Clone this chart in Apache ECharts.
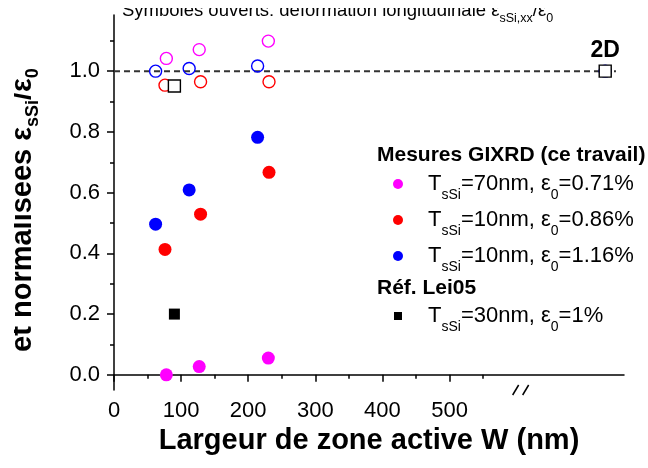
<!DOCTYPE html>
<html>
<head>
<meta charset="utf-8">
<script src="https://cdn.jsdelivr.net/npm/echarts@6/dist/echarts.min.js"></script>
<style>
  html, body { margin: 0; padding: 0; background: #fff; }
  #main { width: 648px; height: 468px; }
</style>
</head>
<body>
<div id="main"></div>
<script>
// W (nm) et deformations normalisees
const wT70 = [78, 127, 230];
const moyT70 = [0.0, 0.027, 0.055];
const longT70 = [1.042, 1.071, 1.099];

const wT10a = [76, 129, 231];
const moyT10a = [0.413, 0.529, 0.667];
const longT10a = [0.954, 0.965, 0.965];

const wT10b = [62, 112, 214];
const moyT10b = [0.496, 0.609, 0.782];
const longT10b = [1.0, 1.009, 1.017];

const wLei = [90];
const moyLei = [0.2];
const longLei = [0.951];

// point "2D" place apres la coupure de l'axe
const w2D = 732;
const long2D = 1.0;
const breakAt = 606;
const refLine = [[0, 1], [748, 1]];

const xMajor = [0, 100, 200, 300, 400, 500];
const xMinor = [50, 150, 250, 350, 450, 550];
const yMajor = [0, 0.2, 0.4, 0.6, 0.8, 1.0];
const yMinor = [0.1, 0.3, 0.5, 0.7, 0.9, 1.1];

const FONT = '"Liberation Sans", Arial, sans-serif';

const legendText = {
  T70: '{f|T}{s|sSi}{t|=70nm, ε}{s|0}{t|=0.71%}',
  T10a: '{f|T}{s|sSi}{t|=10nm, ε}{s|0}{t|=0.86%}',
  T10b: '{f|T}{s|sSi}{t|=10nm, ε}{s|0}{t|=1.16%}',
  Lei05: '{f|T}{s|sSi}{t|=30nm, ε}{s|0}{t|=1%}'
};

const pairs = (xs, ys) => xs.map((x, i) => [x, ys[i]]);

// texte avec indices : ligne haute, le texte centre, l'indice colle en bas
function richSub(size, subSize, drop, bold, lead) {
  const base = { fontFamily: FONT, color: '#000', fontWeight: bold ? 'bold' : 'normal' };
  return {
    t: Object.assign({ fontSize: size, lineHeight: size + 2 * drop }, base),
    f: Object.assign({ fontSize: size, lineHeight: size + 2 * drop, padding: [0, 0, 0, lead || 0] }, base),
    s: Object.assign({ fontSize: subSize, lineHeight: subSize, verticalAlign: 'bottom' }, base)
  };
}

function filled(name, xs, ys, color, symbol, size) {
  return {
    name: name,
    type: 'scatter',
    symbol: symbol || 'circle',
    symbolSize: size || 13,
    data: pairs(xs, ys),
    itemStyle: { color: color, opacity: 1 },
    z: 3
  };
}

function open(xs, ys, color, symbol, size, extra) {
  const data = pairs(xs, ys);
  if (extra) data.push(extra);
  return {
    type: 'scatter',
    symbol: symbol || 'circle',
    symbolSize: size || 12,
    data: data,
    itemStyle: {
      color: symbol === 'rect' ? '#fff' : 'rgba(0,0,0,0)',
      borderColor: color,
      borderWidth: 1.4,
      opacity: 1
    },
    z: symbol === 'rect' ? 4 : 3
  };
}

const chart = echarts.init(document.getElementById('main'));

const axisLineStyle = { color: '#000', width: 1.5 };

const option = {
  backgroundColor: '#fff',
  animation: false,
  grid: { left: 114, right: 24, top: 15, bottom: 78, containLabel: false, outerBoundsMode: 'none' },
  xAxis: [
    {
      type: 'value', min: 0, max: 760, position: 'bottom',
      axisLine: { lineStyle: axisLineStyle },
      axisTick: { customValues: xMajor, length: 7, lineStyle: axisLineStyle },
      axisLabel: { customValues: xMajor, fontSize: 22, fontFamily: FONT, color: '#000', margin: 10 },
      splitLine: { show: false },
      name: 'Largeur de zone active W (nm)',
      nameLocation: 'middle',
      nameGap: 36,
      nameTextStyle: { fontSize: 29, fontWeight: 'bold', fontFamily: FONT, color: '#000', verticalAlign: 'top' }
    },
    {
      type: 'value', min: 0, max: 760, position: 'bottom',
      axisLine: { show: false },
      axisTick: { customValues: xMinor, length: 4, lineStyle: axisLineStyle },
      axisLabel: { show: false },
      splitLine: { show: false }
    }
  ],
  yAxis: [
    {
      type: 'value', min: -0.05, max: 1.185, position: 'left',
      axisLine: { show: true, lineStyle: axisLineStyle },
      axisTick: { show: true, customValues: yMajor, length: 7, lineStyle: axisLineStyle },
      axisLabel: {
        customValues: yMajor, fontSize: 22, fontFamily: FONT, color: '#000', margin: 14,
        formatter: v => v.toFixed(1)
      },
      splitLine: { show: false }
    },
    {
      type: 'value', min: -0.05, max: 1.185, position: 'left',
      axisLine: { show: false },
      axisTick: { show: true, customValues: yMinor, length: 4, lineStyle: axisLineStyle },
      axisLabel: { show: false },
      splitLine: { show: false }
    }
  ],
  legend: [
    {
      data: ['T70', 'T10a', 'T10b'],
      orient: 'vertical', left: 393, top: 173, padding: 0,
      itemWidth: 10, itemHeight: 10, itemGap: 7,
      formatter: n => legendText[n],
      textStyle: { rich: richSub(22, 14, 7, false, 20) },
      selectedMode: false
    },
    {
      data: ['Lei05'],
      orient: 'vertical', left: 394, top: 305, padding: 0,
      itemWidth: 8, itemHeight: 8,
      formatter: n => legendText[n],
      textStyle: { rich: richSub(22, 14, 7, false, 21) },
      selectedMode: false
    }
  ],
  series: [
    {
      type: 'line', data: refLine, symbol: 'none', silent: true, z: 1,
      lineStyle: { color: '#333', width: 2, type: [6, 4] }
    },
    filled('T70', wT70, moyT70, '#ff00ff'),
    filled('T10a', wT10a, moyT10a, '#ff0000'),
    filled('T10b', wT10b, moyT10b, '#0000ff'),
    filled('Lei05', wLei, moyLei, '#000', 'rect', 11),
    open(wT70, longT70, '#ff00ff'),
    open(wT10a, longT10a, '#ff0000'),
    open(wT10b, longT10b, '#0000ff', 'circle', 12, [w2D, long2D]),
    open(wLei, longLei, '#000', 'rect', 12, {
      value: [w2D, long2D],
      label: {
        show: true, position: 'top', distance: 2, formatter: '2D',
        fontSize: 23, fontWeight: 'bold', fontFamily: FONT, color: '#000'
      }
    })
  ]
};

chart.setOption(option);

// coupure de l'axe x, titre vertical, texte du haut et titres de legende
const bx = chart.convertToPixel({ xAxisIndex: 0 }, breakAt);
const by = chart.convertToPixel({ yAxisIndex: 0 }, -0.05);

chart.setOption({
  graphic: [
    { type: 'rect', shape: { x: bx - 8, y: by - 3, width: 16, height: 6 }, style: { fill: '#fff' }, z: 10 },
    { type: 'line', shape: { x1: bx - 8, y1: by + 5, x2: bx - 2, y2: by - 5 }, style: { stroke: '#000', lineWidth: 1.5 }, z: 11 },
    { type: 'line', shape: { x1: bx + 2, y1: by + 5, x2: bx + 8, y2: by - 5 }, style: { stroke: '#000', lineWidth: 1.5 }, z: 11 },
    {
      type: 'text', x: 23, y: 210, rotation: Math.PI / 2, z: 10,
      style: {
        text: '{t|et normalisées ε}{s|sSi}{t|/ε}{s|0}',
        rich: richSub(29, 18, 5, true),
        align: 'center', verticalAlign: 'middle'
      }
    },
    // le haut de l'image d'origine est rogne
    { type: 'rect', shape: { x: 0, y: 30, width: 14, height: 350 }, style: { fill: '#fff' }, z: 12 },
    {
      type: 'text', x: 122, y: -3, z: 10,
      style: {
        text: '{t|Symboles ouverts: déformation longitudinale ε}{s|sSi,xx}{t|/ε}{s|0}',
        rich: richSub(18.5, 12.5, 5, false),
        align: 'left', verticalAlign: 'top'
      }
    },
    { type: 'rect', shape: { x: 116, y: 0, width: 450, height: 8 }, style: { fill: '#fff' }, z: 12 },
    {
      type: 'text', x: 377, y: 155, z: 10,
      style: { text: 'Mesures GIXRD (ce travail)', fontSize: 21, fontWeight: 'bold', fontFamily: FONT, fill: '#000', align: 'left', verticalAlign: 'middle' }
    },
    {
      type: 'text', x: 377, y: 288, z: 10,
      style: { text: 'Réf. Lei05', fontSize: 21, fontWeight: 'bold', fontFamily: FONT, fill: '#000', align: 'left', verticalAlign: 'middle' }
    }
  ]
});
</script>
</body>
</html>
